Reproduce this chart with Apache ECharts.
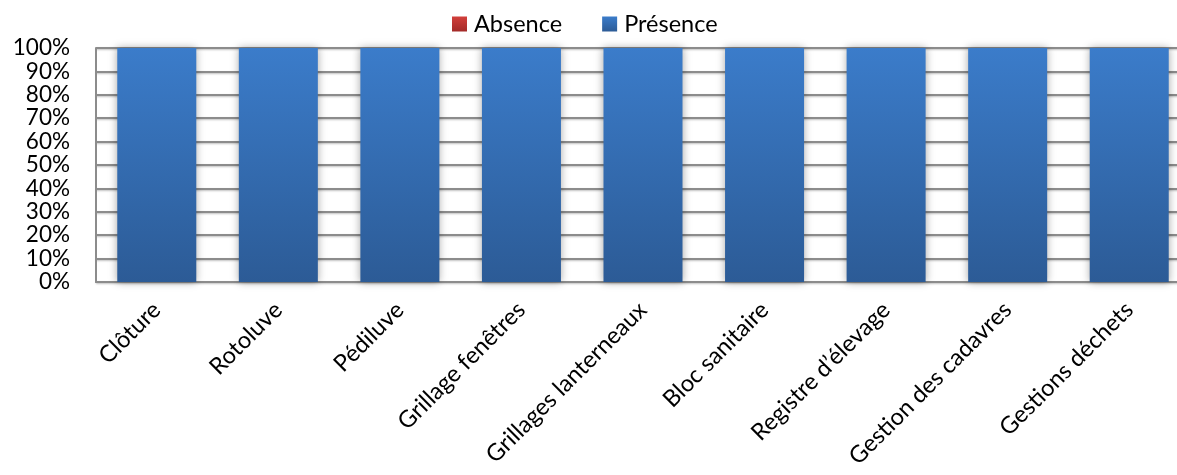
<!DOCTYPE html>
<html><head><meta charset="utf-8">
<script src="https://cdn.jsdelivr.net/npm/echarts@6/dist/echarts.min.js"></script>
<style>html,body{margin:0;padding:0;background:#fff;overflow:hidden;width:1177px;height:475px}#c{width:1190px;height:475px}</style>
</head><body><div id="c"></div>
<script>
const categories = ["Clôture","Rotoluve","Pédiluve","Grillage fenêtres","Grillages lanterneaux","Bloc sanitaire","Registre d’élevage","Gestion des cadavres","Gestions déchets"];
const absence = [0,0,0,0,0,0,0,0,0];
const presence = [100,100,100,100,100,100,100,100,100];
const yTicks = [0,10,20,30,40,50,60,70,80,90,100];

const FONT = 'Lato';
const chart = echarts.init(document.getElementById('c'), null, {renderer:'canvas'});
const blueGrad = new echarts.graphic.LinearGradient(0,0,0,1,[{offset:0,color:'#3b7cca'},{offset:1,color:'#2c5b96'}]);
const redGrad = new echarts.graphic.LinearGradient(0,0,0,1,[{offset:0,color:'#d23f3b'},{offset:1,color:'#a32a28'}]);
chart.setOption({
  animation:false,
  textStyle:{fontFamily:FONT},
  legend:{
    top:7, left:447, itemWidth:15, itemHeight:15, itemGap:40,
    textStyle:{fontSize:23.5,color:'#000',fontFamily:FONT, padding:[0,0,0,2]},
    icon:'rect',
    data:['Absence','Présence']
  },
  grid:{left:96, top:48, bottom:193, right:0, containLabel:false},
  xAxis:{
    type:'category', data:categories,
    axisLine:{show:true,lineStyle:{color:'#8c8c8c',width:2}},
    axisTick:{show:false},
    axisLabel:{rotate:45, fontSize:23.5, color:'#000', margin:24, interval:0, fontFamily:FONT}
  },
  yAxis:{
    type:'value', min:0, max:100, interval:10,
    axisLine:{show:true,lineStyle:{color:'#8c8c8c',width:2}},
    axisTick:{show:false},
    axisLabel:{formatter:v=>v+'%', fontSize:22.5, color:'#000', margin:26, fontFamily:FONT},
    splitLine:{show:true,lineStyle:{color:'#8c8c8c',width:2, shadowColor:'rgba(0,0,0,0.25)',shadowBlur:2,shadowOffsetY:1}}
  },
  series:[
    {name:'Présence', type:'bar', stack:'s', data:presence, barCategoryGap:'35%',
     itemStyle:{color:blueGrad, shadowColor:'rgba(0,0,0,0.35)', shadowBlur:8}},
    {name:'Absence', type:'bar', stack:'s', data:absence,
     itemStyle:{color:redGrad}}
  ]
});
</script></body></html>
